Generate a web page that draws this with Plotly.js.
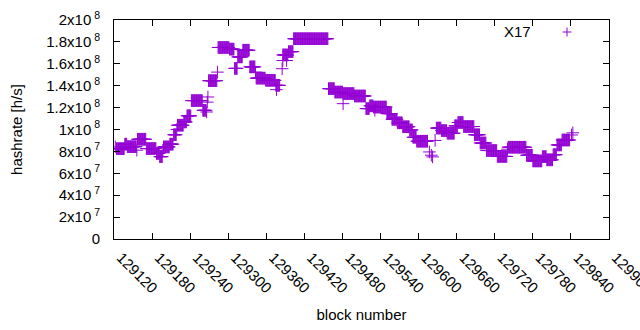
<!DOCTYPE html>
<html>
<head>
<meta charset="utf-8">
<script src="https://cdn.plot.ly/plotly-3.0.1.min.js"></script>
<style>html,body{margin:0;padding:0;background:#fff;}#chart{width:640px;height:330px;}</style>
</head>
<body>
<div id="chart"></div>
<script>
// Runs of consecutive blocks sharing the same hashrate (start inclusive, end exclusive)
const runStart = [129124,129137,129141,129157,129171,129187,129192,129198,129208,129214,129220,129230,129235,129242,129260,129269,129284,129302,129310,129315,129323,129334,129344,129359,129375,129386,129395,129403,129458,129468,129481,129499,129517,129523,129529,129550,129558,129567,129575,129586,129591,129597,129628,129636,129645,129657,129662,129671,129688,129697,129707,129724,129741,129770,129780,129795,129802,129812,129818,129826];
const runEnd   = [129137,129141,129156,129171,129187,129192,129197,129208,129214,129219,129230,129235,129242,129260,129266,129283,129302,129310,129315,129323,129334,129343,129359,129375,129382,129395,129403,129458,129468,129481,129499,129517,129523,129529,129550,129558,129567,129575,129586,129591,129597,129615,129636,129645,129657,129662,129671,129688,129697,129707,129724,129740,129770,129780,129795,129802,129812,129818,129826,129839];
const runHash  = [8.25e7,8.66e7,8.43e7,9.11e7,8.26e7,7.81e7,7.52e7,8.41e7,8.66e7,9.52e7,1.039e8,1.069e8,1.125e8,1.264e8,1.175e8,1.446e8,1.749e8,1.734e8,1.558e8,1.663e8,1.724e8,1.572e8,1.469e8,1.449e8,1.403e8,1.681e8,1.711e8,1.829e8,1.373e8,1.342e8,1.328e8,1.306e8,1.191e8,1.216e8,1.205e8,1.145e8,1.093e8,1.061e8,1.025e8,9.96e7,9.29e7,8.93e7,1.013e8,9.9e7,9.66e7,1.034e8,1.064e8,1.027e8,9.52e7,8.77e7,8.08e7,7.54e7,8.38e7,7.65e7,7.13e7,7.52e7,7.23e7,7.7e7,8.59e7,9.04e7];
// Isolated blocks
const soloBlock = [129122,129156,129197,129219,129266,129267,129268,129283,129343,129376,129385,129386,129392,129481,129531,129617,129620,129622,129626,129740,129841,129843];
const soloHash  = [8.41e7,8.11e7,8.1e7,1.0e8,1.16e8,1.25e8,1.297e8,1.524e8,1.524e8,1.364e8,1.555e8,1.63e8,1.63e8,1.236e8,1.175e8,7.95e7,7.65e7,7.5e7,9.0e7,8.2e7,9.5e7,9.7e7];

const xTickVals = [129120,129180,129240,129300,129360,129420,129480,129540,129600,129660,129720,129780,129840,129900];
const xTickText = ["129120","129180","129240","129300","129360","129420","129480","129540","129600","129660","129720","129780","129840","129900"];
const yTickVals = [0,2e7,4e7,6e7,8e7,1e8,1.2e8,1.4e8,1.6e8,1.8e8,2e8];
const yTickText = ["0","2x10<sup> 7</sup>","4x10<sup> 7</sup>","6x10<sup> 7</sup>","8x10<sup> 7</sup>","1x10<sup> 8</sup>","1.2x10<sup> 8</sup>","1.4x10<sup> 8</sup>","1.6x10<sup> 8</sup>","1.8x10<sup> 8</sup>","2x10<sup> 8</sup>"];

const xs = [], ys = [];
for (let i = 0; i < runStart.length; i++) {
  for (let b = runStart[i]; b < runEnd[i]; b++) { xs.push(b); ys.push(runHash[i]); }
}
for (let i = 0; i < soloBlock.length; i++) { xs.push(soloBlock[i]); ys.push(soloHash[i]); }

const purple = '#9400D3';
const FONT = {family: '"Liberation Sans", Arial, sans-serif', size: 15, color: '#000'};

const L = 114, R = 609, T = 20, B = 239;
const px = v => (v - L) / (R - L);
const py = v => (B - v) / (B - T);

const trace = {
  x: xs, y: ys, type: 'scatter', mode: 'markers', name: 'X17', showlegend: false,
  marker: {symbol: 'cross-thin-open', size: 9, color: purple, line: {color: purple, width: 1}}
};

const layout = {
  width: 640, height: 330,
  margin: {l: L, r: 640 - R, t: T, b: 330 - B, pad: 0},
  paper_bgcolor: '#fff', plot_bgcolor: '#fff',
  font: FONT,
  showlegend: false,
  xaxis: {
    range: [129120, 129900], autorange: false,
    tickmode: 'array', tickvals: xTickVals, ticktext: xTickText,
    tickangle: 45, ticks: 'inside', ticklen: 6, tickcolor: '#000', tickwidth: 1,
    showline: true, linecolor: '#000', linewidth: 1, mirror: 'allticks',
    showgrid: false, zeroline: false, automargin: false,
    tickfont: FONT, ticklabelshift: 7, ticklabelstandoff: 3, ticklabeloverflow: 'allow',
    title: {text: 'block number', font: FONT, standoff: 14}
  },
  yaxis: {
    range: [0, 2e8], autorange: false,
    tickmode: 'array', tickvals: yTickVals, ticktext: yTickText,
    ticks: 'inside', ticklen: 6, tickcolor: '#000', tickwidth: 1,
    showline: true, linecolor: '#000', linewidth: 1, mirror: 'allticks',
    showgrid: false, zeroline: false, automargin: false,
    tickfont: FONT, ticklabelstandoff: 10,
    title: {text: 'hashrate [h/s]', font: FONT, standoff: 19}
  },
  annotations: [{
    xref: 'paper', yref: 'paper', x: px(533), y: py(31), xanchor: 'right', yanchor: 'middle',
    text: 'X17', showarrow: false, font: FONT
  }],
  shapes: [
    {type: 'line', xref: 'paper', yref: 'paper', x0: px(562.5), x1: px(571.5), y0: py(32), y1: py(32), line: {color: purple, width: 1}},
    {type: 'line', xref: 'paper', yref: 'paper', x0: px(567), x1: px(567), y0: py(27.5), y1: py(36.5), line: {color: purple, width: 1}}
  ]
};

Plotly.newPlot('chart', [trace], layout, {staticPlot: true, displayModeBar: false});
</script>
</body>
</html>
